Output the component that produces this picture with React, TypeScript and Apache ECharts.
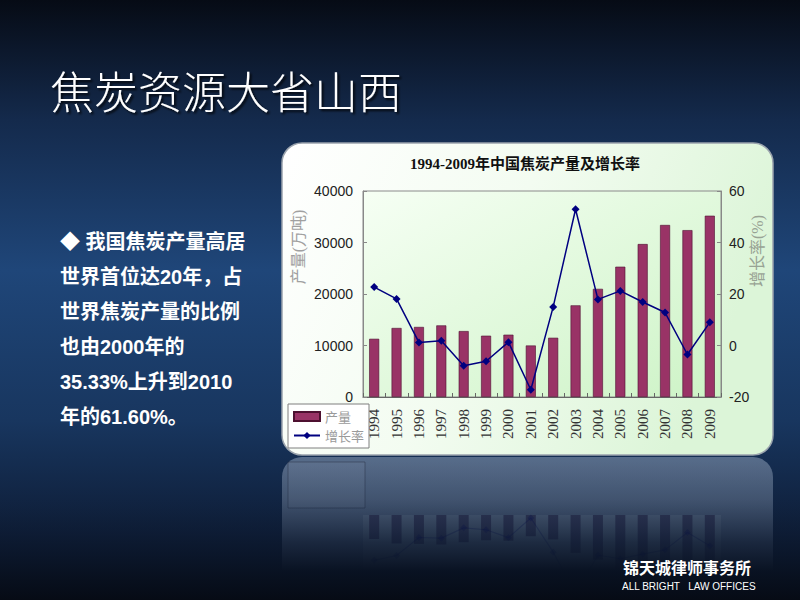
import React, { useEffect, useRef } from "react";
import * as echarts from "echarts";

const years = ["1994", "1995", "1996", "1997", "1998", "1999", "2000", "2001", "2002", "2003", "2004", "2005", "2006", "2007", "2008", "2009"];
const output = [11300, 13400, 13600, 13900, 12800, 11900, 12100, 10000, 11500, 17800, 21000, 25300, 29700, 33400, 32400, 35200];
const growth = [22.7, 18.1, 1.2, 1.8, -7.9, -6.1, 1.3, -17.2, 15.0, 52.9, 17.9, 21.2, 16.9, 12.8, -3.5, 9.0];
const leftAxis = { min: 0, max: 40000, interval: 10000 };
const rightAxis = { min: -20, max: 60, interval: 20 };

const slideTitle = "焦炭资源大省山西";
const chartTitle = "1994-2009年中国焦炭产量及增长率";
const leftName = "产量(万吨)";
const rightName = "增长率(%)";
const bulletLines = [
  "◆ 我国焦炭产量高居",
  "世界首位达20年，占",
  "世界焦炭产量的比例",
  "也由2000年的",
  "35.33%上升到2010",
  "年的61.60%。",
];
const footerCn = "锦天城律师事务所";
const footerEn = "ALL BRIGHT   LAW OFFICES";

const CJK = "'Noto Sans CJK SC', sans-serif";
const SERIF = "'Liberation Serif', 'Noto Sans CJK SC', serif";
const SANS = "'Liberation Sans', Arial, sans-serif";

function buildOption(): any {
  return {
    animation: false,
    backgroundColor: {
      type: "linear", x: 0, y: 0, x2: 0, y2: 1,
      colorStops: [
        { offset: 0, color: "#060b15" },
        { offset: 0.2, color: "#142a4c" },
        { offset: 0.45, color: "#1f4679" },
        { offset: 0.7, color: "#18365f" },
        { offset: 0.85, color: "#10223f" },
        { offset: 1, color: "#060b15" },
      ],
    },
    grid: [
      {
        left: 363, top: 191, width: 358, height: 206,
        show: true, borderColor: "#8a8a8a", borderWidth: 1,
        backgroundColor: {
          type: "linear", x: 0, y: 0, x2: 1, y2: 1,
          colorStops: [
            { offset: 0, color: "#f6fff4" },
            { offset: 1, color: "#cdf3c6" },
          ],
        },
      },
      {
        left: 363, top: 515, width: 358, height: 206,
        show: true, borderWidth: 0,
        backgroundColor: "rgba(220,235,235,0.12)",
      },
    ],
    legend: {
      data: [{ name: "产量", icon: "rect" }, { name: "增长率" }],
      orient: "vertical",
      left: 288, top: 404,
      itemWidth: 26, itemHeight: 9, itemGap: 6,
      padding: [6, 5, 6, 5],
      backgroundColor: "#ffffff",
      borderColor: "#7f7f7f", borderWidth: 1, borderRadius: 0,
      textStyle: { fontSize: 13, color: "#9a9a9a", fontFamily: CJK },
    },
    xAxis: [
      {
        type: "category", data: years, gridIndex: 0,
        axisLine: { show: true, lineStyle: { color: "#666" } },
        axisTick: { show: true, inside: true, length: 4, lineStyle: { color: "#666" } },
        axisLabel: { rotate: 90, interval: 0, fontSize: 15, color: "#333", fontFamily: SERIF, margin: 12 },
        splitLine: { show: false },
      },
      { type: "category", data: years, gridIndex: 1, show: false },
    ],
    yAxis: [
      {
        type: "value", gridIndex: 0, ...leftAxis,
        axisLine: { show: true, lineStyle: { color: "#888" } },
        axisTick: { show: true, inside: true, length: 4, lineStyle: { color: "#888" } },
        axisLabel: { fontSize: 14, color: "#222", fontFamily: SANS, margin: 10, formatter: (v: number) => String(v) },
        splitLine: { show: false },
      },
      {
        type: "value", gridIndex: 0, position: "right", ...rightAxis,
        axisLine: { show: true, lineStyle: { color: "#888" } },
        axisTick: { show: true, inside: true, length: 4, lineStyle: { color: "#888" } },
        axisLabel: { fontSize: 14, color: "#222", fontFamily: SANS, margin: 8 },
        splitLine: { show: false },
      },
      { type: "value", gridIndex: 1, inverse: true, ...leftAxis, show: false, splitLine: { show: false } },
      { type: "value", gridIndex: 1, inverse: true, ...rightAxis, show: false, splitLine: { show: false } },
    ],
    series: [
      {
        name: "产量", type: "bar", data: output, xAxisIndex: 0, yAxisIndex: 0,
        barWidth: 10,
        itemStyle: { color: "#993366", borderColor: "#4d1030", borderWidth: 0.6 },
      },
      {
        name: "增长率", type: "line", data: growth, xAxisIndex: 0, yAxisIndex: 1,
        symbol: "diamond", symbolSize: 8,
        lineStyle: { color: "#000080", width: 1.5 },
        itemStyle: { color: "#000080" },
      },
      {
        name: "产量倒影", type: "bar", data: output, xAxisIndex: 1, yAxisIndex: 2,
        barWidth: 10, silent: true,
        itemStyle: { color: "rgba(35,25,60,0.6)" },
      },
      {
        name: "增长率倒影", type: "line", data: growth, xAxisIndex: 1, yAxisIndex: 3,
        symbol: "diamond", symbolSize: 7, silent: true,
        lineStyle: { color: "rgba(0,0,90,0.3)", width: 1.2 },
        itemStyle: { color: "rgba(0,0,90,0.3)" },
      },
    ],
    graphic: [
      {
        type: "rect", z: -10,
        shape: { x: 282, y: 143, width: 491, height: 312, r: 20 },
        style: {
          fill: {
            type: "linear", x: 0, y: 0, x2: 1, y2: 0.3,
            colorStops: [
              { offset: 0, color: "#ffffff" },
              { offset: 0.5, color: "#f3fcf1" },
              { offset: 1, color: "#dcf5d8" },
            ],
          },
          stroke: "#9aa3ad", lineWidth: 1.5,
        },
      },
      {
        type: "rect", z: -10,
        shape: { x: 282, y: 457, width: 491, height: 143, r: [20, 20, 0, 0] },
        style: { fill: "rgba(190,205,225,0.4)" },
      },
      {
        type: "rect", z: -9,
        shape: { x: 288, y: 462, width: 77, height: 46 },
        style: { fill: "rgba(255,255,255,0.05)", stroke: "rgba(40,50,70,0.5)", lineWidth: 1 },
      },
      {
        type: "rect", z: 50,
        shape: { x: 0, y: 456, width: 800, height: 144 },
        style: {
          fill: {
            type: "linear", x: 0, y: 0, x2: 0, y2: 1,
            colorStops: [
              { offset: 0, color: "rgba(21,46,83,0)" },
              { offset: 0.3, color: "rgba(17,36,66,0.3)" },
              { offset: 0.6, color: "rgba(12,25,48,0.8)" },
              { offset: 0.8, color: "rgba(9,18,34,1)" },
              { offset: 1, color: "rgba(6,11,21,1)" },
            ],
          },
        },
      },
      {
        type: "text", z: 100, x: 50, y: 90,
        style: {
          text: slideTitle, fill: "#ffffff",
          fontSize: 44, fontFamily: CJK, fontWeight: 300,
          textAlign: "left", textVerticalAlign: "middle",
          textShadowColor: "rgba(0,0,0,0.8)", textShadowOffsetX: 2, textShadowOffsetY: 2, textShadowBlur: 2,
        },
      },
      {
        type: "text", z: 100, x: 60, y: 224,
        style: {
          text: bulletLines.join("\n"), fill: "#ffffff",
          fontSize: 20, lineHeight: 35, fontWeight: "bold",
          fontFamily: "'Liberation Sans', 'Noto Sans CJK SC', sans-serif",
          textAlign: "left", textVerticalAlign: "top",
        },
      },
      {
        type: "text", z: 100, x: 525, y: 164,
        style: {
          text: chartTitle, fill: "#111",
          fontSize: 15, fontWeight: "bold", fontFamily: SERIF,
          textAlign: "center", textVerticalAlign: "middle",
        },
      },
      {
        type: "text", z: 100, x: 298, y: 247, rotation: Math.PI / 2,
        style: {
          text: leftName, fill: "#a0a0a0", fontSize: 16, fontFamily: SERIF,
          textAlign: "center", textVerticalAlign: "middle",
        },
      },
      {
        type: "text", z: 100, x: 757, y: 251, rotation: Math.PI / 2,
        style: {
          text: rightName, fill: "#98a394", fontSize: 16, fontFamily: SERIF,
          textAlign: "center", textVerticalAlign: "middle",
        },
      },
      {
        type: "text", z: 100, x: 623, y: 567,
        style: {
          text: footerCn, fill: "#ffffff", fontSize: 16, fontWeight: "bold", fontFamily: CJK,
          textAlign: "left", textVerticalAlign: "middle",
        },
      },
      {
        type: "text", z: 100, x: 622, y: 586,
        style: {
          text: footerEn, fill: "#ffffff", fontSize: 10, fontFamily: SANS,
          textAlign: "left", textVerticalAlign: "middle",
        },
      },
    ],
  };
}

export default function App() {
  const ref = useRef<HTMLDivElement>(null);
  useEffect(() => {
    if (!ref.current) return;
    const chart = echarts.init(ref.current, null, { renderer: "svg", width: 800, height: 600 });
    chart.setOption(buildOption());
    return () => chart.dispose();
  }, []);
  return (
    <div
      ref={ref}
      style={{ position: "absolute", left: 0, top: 0, width: 800, height: 600 }}
    />
  );
}
